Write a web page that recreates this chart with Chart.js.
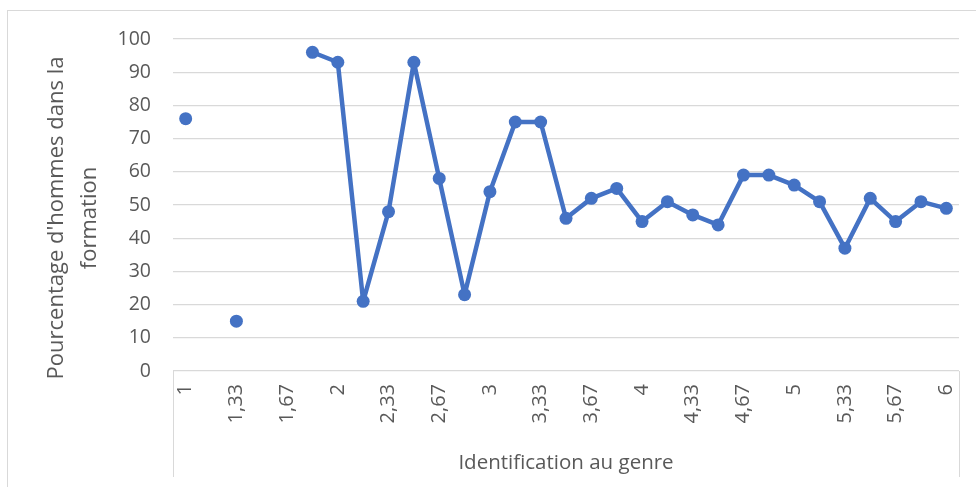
<!DOCTYPE html>
<html>
<head>
<meta charset="utf-8">
<script src="https://cdn.jsdelivr.net/npm/chart.js@4.4.1/dist/chart.umd.min.js"></script>
<style>
    body { margin: 0; background: #fff; }
    #wrap { position: relative; width: 976px; height: 487px; overflow: hidden; }
    #frame { position: absolute; left: 7px; top: 10px; width: 1000px; height: 500px; border: 1px solid #d9d9d9; }
    canvas { position: absolute; left: 0; top: 0; }
</style>
</head>
<body>
<div id="wrap">
    <div id="frame"></div>
    <canvas id="chart" width="976" height="487"></canvas>
</div>
<script>
// --- données ---
const categories = [
    "1", "1,17", "1,33", "1,5", "1,67", "1,83",
    "2", "2,17", "2,33", "2,5", "2,67", "2,83",
    "3", "3,17", "3,33", "3,5", "3,67", "3,83",
    "4", "4,17", "4,33", "4,5", "4,67", "4,83",
    "5", "5,17", "5,33", "5,5", "5,67", "5,83",
    "6"
];
const pctHommes = [
    76, null, 15, null, null, 96,
    93, 21, 48, 93, 58, 23,
    54, 75, 75, 46, 52, 55,
    45, 51, 47, 44, 59, 59,
    56, 51, 37, 52, 45, 51,
    49
];
const yTicks = [0, 10, 20, 30, 40, 50, 60, 70, 80, 90, 100];
const yTitleLines = ["Pourcentage d'hommes dans la", "formation"];
const xTitle = "Identification au genre";

const FONT = "'Open Sans'";
const GREY = "#595959";
const BLUE = "#4472C4";

// lignes verticales du cadre de l'axe X (style Excel) + titre de l'axe Y
const axisBox = {
    id: "axisBox",
    afterDraw(chart) {
        const { ctx, chartArea } = chart;
        ctx.save();
        ctx.strokeStyle = "#d9d9d9";
        ctx.lineWidth = 1;
        ctx.beginPath();
        ctx.moveTo(chartArea.left + 0.5, chartArea.bottom);
        ctx.lineTo(chartArea.left + 0.5, 477);
        ctx.moveTo(chartArea.right + 0.5, chartArea.bottom);
        ctx.lineTo(chartArea.right + 0.5, 477);
        ctx.stroke();

        // titre Y sur deux lignes, centré un peu plus bas comme dans Excel
        ctx.translate(63, 218);
        ctx.rotate(-Math.PI / 2);
        ctx.fillStyle = GREY;
        ctx.font = "22px " + FONT;
        ctx.textAlign = "center";
        ctx.textBaseline = "alphabetic";
        yTitleLines.forEach((line, i) => ctx.fillText(line, 0, i * 33));
        ctx.restore();
    }
};

new Chart(document.getElementById("chart"), {
    type: "line",
    data: {
        labels: categories,
        datasets: [{
            data: pctHommes,
            borderColor: BLUE,
            backgroundColor: BLUE,
            borderWidth: 4.5,
            borderJoinStyle: "round",
            borderCapStyle: "round",
            pointRadius: 6.5,
            pointHoverRadius: 6.5,
            pointBorderWidth: 0,
            spanGaps: false,
            tension: 0
        }]
    },
    options: {
        responsive: false,
        animation: false,
        events: [],
        layout: { padding: { left: 0, right: 17, top: 39, bottom: 0 } },
        plugins: {
            legend: { display: false },
            tooltip: { enabled: false }
        },
        scales: {
            x: {
                type: "category",
                offset: true,
                grid: { display: false },
                border: { display: false },
                ticks: {
                    autoSkip: false,
                    minRotation: 90,
                    maxRotation: 90,
                    padding: 5,
                    color: GREY,
                    font: { family: FONT, size: 20 },
                    callback: (v, i) => (i % 2 === 0 ? categories[i] : "")
                },
                title: {
                    display: true,
                    text: xTitle,
                    color: GREY,
                    font: { family: FONT, size: 20.5 },
                    padding: { top: 0, bottom: 12 }
                },
                afterFit: (s) => { s.height = 116; }
            },
            y: {
                min: 0,
                max: 100,
                afterBuildTicks: (s) => { s.ticks = yTicks.map(v => ({ value: v })); },
                grid: { color: "#d9d9d9", lineWidth: 1.3, drawTicks: false },
                border: { display: false },
                ticks: {
                    padding: 22,
                    color: GREY,
                    font: { family: FONT, size: 19.5 }
                },
                afterFit: (s) => { s.width = 173; }
            }
        }
    },
    plugins: [axisBox]
});
</script>
</body>
</html>
